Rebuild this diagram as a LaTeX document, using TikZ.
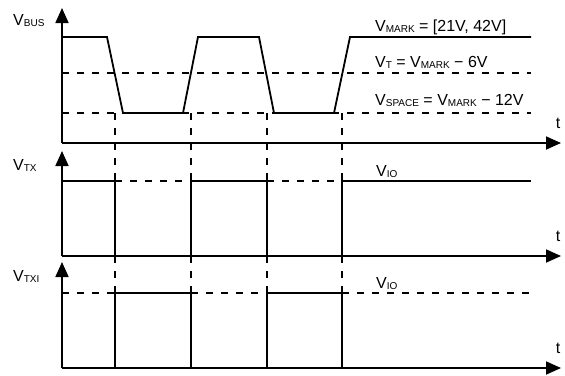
\documentclass[tikz,border=0pt]{standalone}
\usepackage{fontspec}
\setmainfont{Liberation Sans}
\usetikzlibrary{arrows.meta}
\newcommand{\sbs}[1]{\raisebox{-1pt}{\fontsize{10}{10}\selectfont #1}}
\begin{document}
\begin{tikzpicture}[x=1pt,y=-1pt,
  axis/.style={line width=1.8pt,-{Triangle[length=15pt,width=13pt]}},
  sig/.style={line width=1.8pt,line join=miter},
  dsh/.style={line width=1.6pt,dash pattern=on 7pt off 8pt},
  lbl/.style={anchor=base west,inner sep=0pt,font=\fontsize{16}{16}\selectfont}]
\useasboundingbox (0,0) rectangle (565,375);
% axes
\coordinate (o1) at (62,143); \coordinate (y1) at (62,8);   \coordinate (x1) at (561,143);
\coordinate (o2) at (62,256); \coordinate (y2) at (62,151); \coordinate (x2) at (561,256);
\coordinate (o3) at (62,368); \coordinate (y3) at (62,262); \coordinate (x3) at (561,368);
\draw[axis] (o1) -- (y1);
\draw[axis] (o1) -- (x1);
\draw[axis] (o2) -- (y2);
\draw[axis] (o2) -- (x2);
\draw[axis] (o3) -- (y3);
\draw[axis] (o3) -- (x3);
% labels
\node[lbl] (lbus) at (13,25) {V\sbs{BUS}};
\node[lbl] (ltx) at (13,170) {V\sbs{TX}};
\node[lbl] (ltxi) at (13,281) {V\sbs{TXI}};
\node[lbl] (lmark) at (375,31) {V\sbs{MARK} = [21V, 42V]};
\node[lbl] (lt) at (375,67) {V\sbs{T} = V\sbs{MARK} − 6V};
\node[lbl] (lspace) at (375,105) {V\sbs{SPACE} = V\sbs{MARK} − 12V};
\node[lbl] (lio1) at (376,176) {V\sbs{IO}};
\node[lbl] (lio2) at (376,288) {V\sbs{IO}};
\node[lbl,anchor=center] (t1) at (558,123) {t};
\node[lbl,anchor=center] (t2) at (558,236) {t};
\node[lbl,anchor=center] (t3) at (558,348) {t};
% thresholds
\draw[dsh] (62,73) -- (531,73);
\draw[dsh] (62,113) -- (531,113);
% bus waveform
\draw[sig] (62,37) -- (107,37) -- (123,113) -- (183,113) -- (198,37) -- (259,37)
  -- (274,113) -- (334,113) -- (350,37) -- (531,37);
% vertical dashed guides
\foreach \x in {115,191,267,342}{
  \draw[dsh] (\x,113) -- (\x,181);
  \draw[dsh] (\x,256) -- (\x,293);
}
% TX waveform
\draw[sig] (62,181) -- (115,181) -- (115,256);
\draw[sig] (191,256) -- (191,181) -- (267,181) -- (267,256);
\draw[sig] (342,256) -- (342,181) -- (531,181);
\draw[dsh] (115,181) -- (191,181);
\draw[dsh] (267,181) -- (342,181);
% TXI waveform
\draw[dsh] (62,293) -- (115,293);
\draw[sig] (115,368) -- (115,293) -- (191,293) -- (191,368);
\draw[dsh] (191,293) -- (267,293);
\draw[sig] (267,368) -- (267,293) -- (342,293) -- (342,368);
\draw[dsh] (342,293) -- (531,293);
\end{tikzpicture}
\end{document}
